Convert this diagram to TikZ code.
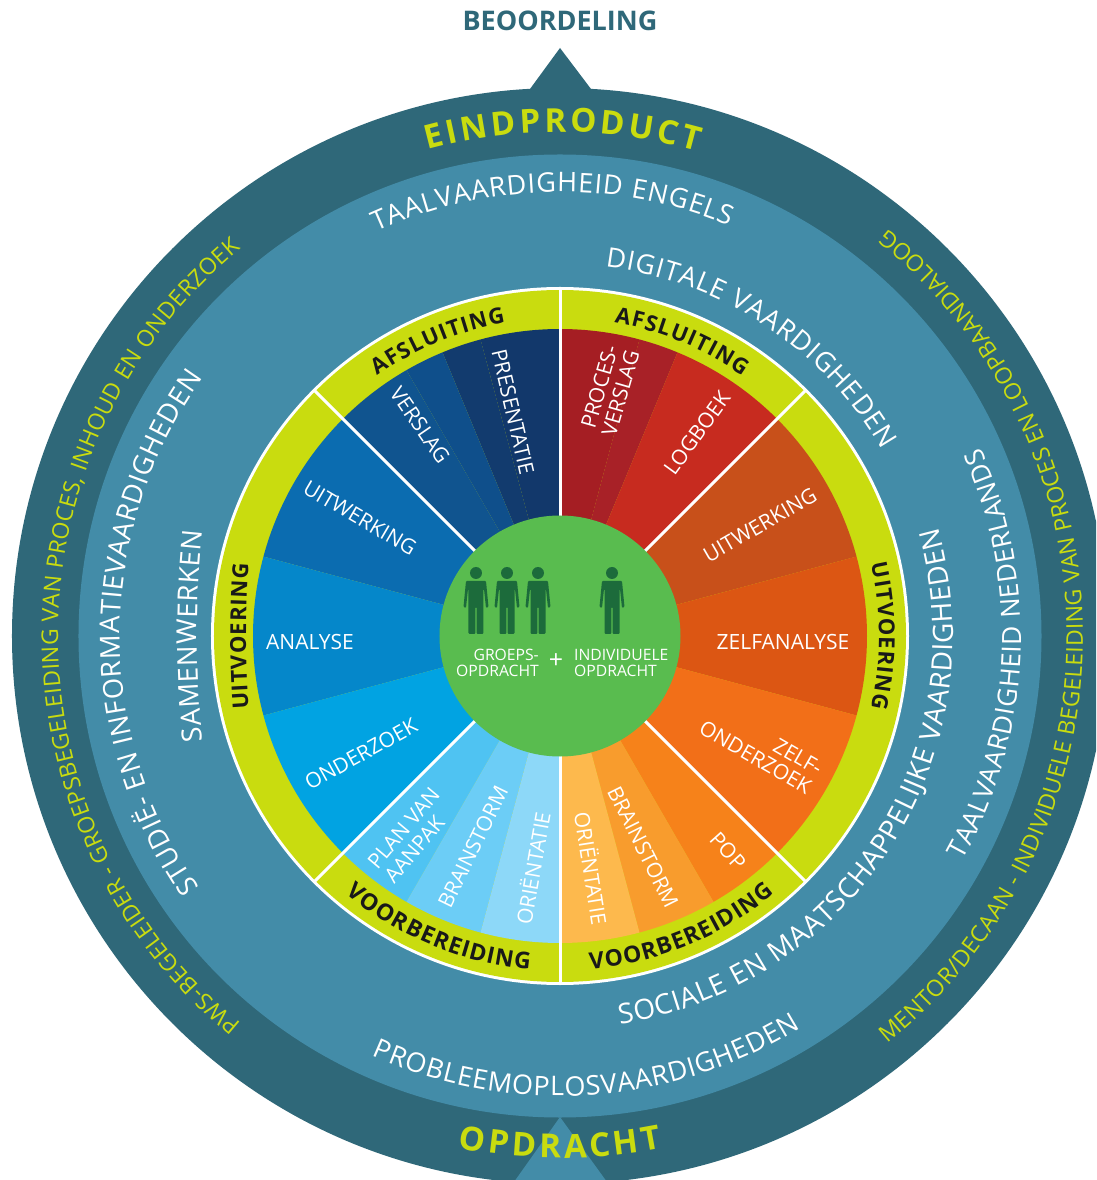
\documentclass[tikz,border=0pt]{standalone}
\usepackage{fontspec}
\setmainfont{Open Sans}
\newcommand{\fnt}[1]{\normalfont\fontsize{#1}{#1}\selectfont}
\newcommand{\fntb}[1]{\normalfont\bfseries\fontsize{#1}{#1}\selectfont}
\newlength{\arcL}
\makeatletter
% radius, centre angle, direction (1 clockwise, -1 counter-clockwise), tracking, font, colour, text (~ for spaces)
\newcommand{\arcword}[7]{%
  \arcL=0pt
  \@tfor\arc@c:=#7\do{%
    \setbox0=\hbox{\pgfinterruptpicture#5\arc@c\endpgfinterruptpicture}%
    \advance\arcL by \wd0
    \advance\arcL by #4pt }%
  \advance\arcL by -#4pt
  \pgfmathsetmacro{\arc@cur}{-\strip@pt\arcL/2}%
  \@tfor\arc@c:=#7\do{%
    \setbox0=\hbox{\pgfinterruptpicture#5\arc@c\endpgfinterruptpicture}%
    \pgfmathsetmacro{\arc@w}{\strip@pt\wd0}%
    \pgfmathsetmacro{\arc@a}{#2-(#3)*(\arc@cur+\arc@w/2)/(#1)*57.29578}%
    \pgfmathsetmacro{\arc@r}{\arc@a-90*(#3)}%
    \node[anchor=base,inner sep=0pt,text=#6,rotate=\arc@r] at (\arc@a:#1pt) {#5\arc@c};%
    \pgfmathsetmacro{\arc@cur}{\arc@cur+\arc@w+#4}%
  }%
}
\makeatother
\definecolor{teal1}{HTML}{2F6879}
\definecolor{teal2}{HTML}{438CA8}
\definecolor{lime}{HTML}{C9DC0F}
\definecolor{cgreen}{HTML}{59BC4F}
\definecolor{dgreen}{HTML}{1C6B3B}
\tikzset{
  wtext/.style={text=white,inner sep=0pt,align=center,font=\fnt{21}},
  divider/.style={draw=white,line width=3pt},
  person/.style={fill=dgreen,draw=none},
}
\newcommand{\wdg}[3]{\definecolor{wc}{HTML}{#3}\fill[wc] (#1:119pt) -- (#1:307pt) arc[start angle=#1,end angle=#2,radius=307pt] -- (#2:119pt) arc[start angle=#2,end angle=#1,radius=119pt] -- cycle;}
\newcommand{\person}[2]{\begin{scope}[shift={({#1-560},{636-#2})}]
  \fill[person] (0,0) circle[radius=6pt];
  \fill[person,rounded corners=1pt] (-10,-8) -- (10,-8) -- (12.5,-34) -- (10,-35) -- (8,-16) -- (7.5,-16) -- (7.5,-61) -- (0.7,-61) -- (0.7,-34) -- (-0.7,-34) -- (-0.7,-61) -- (-7.5,-61) -- (-7.5,-16) -- (-8,-16) -- (-10,-35) -- (-12.5,-34) -- cycle;
\end{scope}}
\newcommand{\px}[2]{({#1-560},{636-#2})}
\begin{document}
\begin{tikzpicture}[x=1pt,y=1pt]
\useasboundingbox (-560,-544) rectangle (536,636);
\begin{scope}
\clip (-560,-544) rectangle (536,636);
\fill[white] (-560,-544) rectangle (536,636);
% outer discs
\fill[teal1] (0,0) circle[radius=548pt];
\fill[teal1] (-30,547) -- (0,588) -- (31,547) -- cycle;
\fill[teal2] (0,0) circle[radius=481.5pt];
\fill[teal2] (0,-481) -- (-46,-546) -- (47,-546) -- cycle;
% lime ring
\fill[white] (0,0) circle[radius=349pt];
\fill[lime] (0,0) circle[radius=346pt];
% wedges, left half
\wdg{90}{105}{12386B}
\wdg{105}{112.5}{123B6E}
\wdg{112.5}{120}{0F4F8B}
\wdg{120}{135}{10548F}
\wdg{135}{165}{0B6CB0}
\wdg{165}{195}{0587CA}
\wdg{195}{225}{01A3E2}
\wdg{225}{240}{4FC3F2}
\wdg{240}{255}{6CCDF6}
\wdg{255}{270}{8DD8F8}
% wedges, right half
\wdg{75}{90}{A51E23}
\wdg{67.5}{75}{A82127}
\wdg{45}{67.5}{C72B1F}
\wdg{15}{45}{C8501A}
\wdg{-15}{15}{DC5613}
\wdg{-45}{-15}{F26F18}
\wdg{-60}{-45}{F6821A}
\wdg{-75}{-60}{F89C2D}
\wdg{-90}{-75}{FDB94D}
% dividers
\draw[divider] (90:119pt) -- (90:348pt);
\draw[divider] (270:119pt) -- (270:348pt);
\draw[divider] (45:119pt) -- (45:348pt);
\draw[divider] (135:119pt) -- (135:348pt);
\draw[divider] (225:119pt) -- (225:348pt);
\draw[divider] (315:119pt) -- (315:348pt);
% centre
\fill[cgreen] (0,0) circle[radius=120.5pt];
\person{476}{573}\person{507}{573}\person{538}{573}\person{612}{573}
\node[wtext,font=\fnt{15.7},align=right,anchor=east] (groep) at \px{539}{663} {GROEPS-\\[1pt]OPDRACHT};
\node[wtext,font=\fnt{15.7},align=left,anchor=west] (indiv) at \px{574}{663} {INDIVIDUELE\\[1pt]OPDRACHT};
\node[wtext,font=\fnt{25}] (plus) at \px{556}{661} {+};
% wedge labels
\node[wtext,rotate=-77] (presentatie) at \px{513}{412} {PRESENTATIE};
\node[wtext,rotate=-55.5] (verslag) at \px{420}{425} {VERSLAG};
\node[wtext,rotate=-30.4] (uitwl) at \px{360}{518} {UITWERKING};
\node[wtext] (analyse) at \px{310}{642} {ANALYSE};
\node[wtext,rotate=29] (onderzoek) at \px{361}{754} {ONDERZOEK};
\node[wtext,rotate=50,align=left] (plan) at \px{412}{835} {PLAN VAN\\[1pt]AANPAK};
\node[wtext,rotate=64] (brainl) at \px{473}{847} {BRAINSTORM};
\node[wtext,rotate=80] (orientl) at \px{532}{868} {ORIËNTATIE};
\node[wtext,rotate=74] (proces) at \px{610}{390} {PROCES-\\[1pt]VERSLAG};
\node[wtext,rotate=54] (logboek) at \px{697}{433} {LOGBOEK};
\node[wtext,rotate=30] (uitwr) at \px{760}{525} {UITWERKING};
\node[wtext] (zelfa) at \px{783}{642} {ZELFANALYSE};
\node[wtext,rotate=-30,align=right] (zelfo) at \px{761}{748} {ZELF-\\[1pt]ONDERZOEK};
\node[wtext,rotate=-48] (pop) at \px{728}{851} {POP};
\node[wtext,rotate=-63.5] (brainr) at \px{643}{847} {BRAINSTORM};
\node[wtext,rotate=-81] (orientr) at \px{592}{868} {ORIËNTATIE};
% lime band labels
\arcword{318}{112.5}{1}{1.2}{\fntb{22}}{black!90}{AFSLUITING}
\arcword{318}{67.5}{1}{1.2}{\fntb{22}}{black!90}{AFSLUITING}
\begin{scope}[xshift=686pt]
\arcword{1000}{180}{1}{1}{\fntb{22}}{black!90}{UITVOERING}
\end{scope}
\arcword{319}{0}{1}{1}{\fntb{22}}{black!90}{UITVOERING}
\arcword{335}{247.5}{-1}{1}{\fntb{23}}{black!90}{VOORBEREIDING}
\arcword{335}{292.5}{-1}{1}{\fntb{23}}{black!90}{VOORBEREIDING}
% skills
\arcword{444}{91}{1}{0.9}{\fnt{27}}{white}{TAALVAARDIGHEID~ENGELS}
\arcword{372}{56.5}{1}{0.9}{\fnt{27}}{white}{DIGITALE~VAARDIGHEDEN}
\arcword{461}{-2.5}{-1}{0.7}{\fnt{26.5}}{white}{TAALVAARDIGHEID~NEDERLANDS}
\arcword{393}{-32.6}{-1}{0.7}{\fnt{28}}{white}{SOCIALE~EN~MAATSCHAPPELIJKE~VAARDIGHEDEN}
\arcword{460}{273.7}{-1}{0.7}{\fnt{27}}{white}{PROBLEEMOPLOSVAARDIGHEDEN}
\arcword{440}{179.5}{1}{0.7}{\fnt{27.5}}{white}{STUDIË-~EN~INFORMATIEVAARDIGHEDEN}
\begin{scope}[xshift=637pt]
\arcword{1000}{180}{1}{0.7}{\fnt{27.5}}{white}{SAMENWERKEN}
\end{scope}
% outer ring
\arcword{502}{180}{1}{0.3}{\fnt{23}}{lime}{PWS-BEGELEIDER~-~GROEPSBEGELEIDING~VAN~PROCES,~INHOUD~EN~ONDERZOEK}
\arcword{523}{0}{-1}{0.3}{\fnt{23}}{lime}{MENTOR/DECAAN~-~INDIVIDUELE~BEGELEIDING~VAN~PROCES~EN~LOOPBAANDIALOOG}
\arcword{504}{89.7}{1}{3.5}{\fntb{33}}{lime}{EINDPRODUCT}
\arcword{522}{270}{-1}{3.5}{\fntb{33}}{lime}{OPDRACHT}
\end{scope}
\node[text=teal1,inner sep=0pt,font=\fntb{27}] (beoordeling) at \px{560}{21} {BEOORDELING};
\end{tikzpicture}
\end{document}
